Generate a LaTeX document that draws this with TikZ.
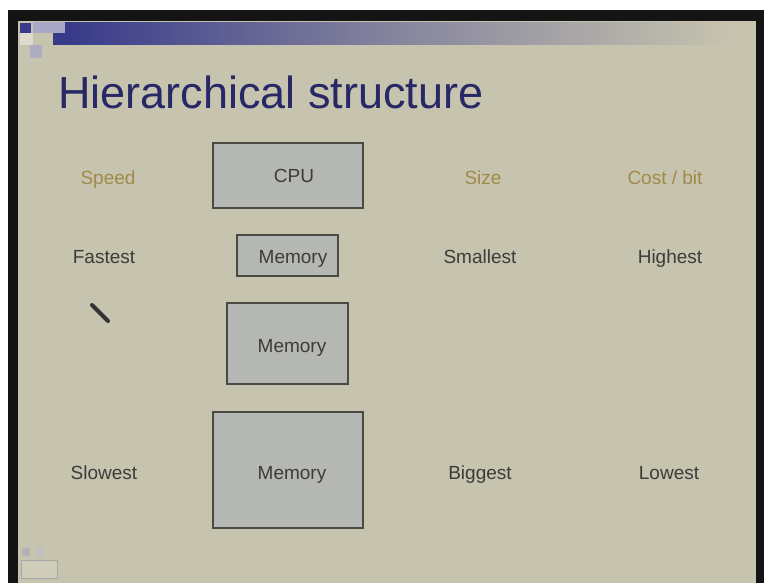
\documentclass[tikz,border=0pt]{standalone}
\usepackage{fontspec}
\setmainfont{Liberation Sans}
\definecolor{slidebg}{HTML}{C6C3AE}
\definecolor{navy}{HTML}{282866}
\definecolor{barnavy}{HTML}{383A8A}
\definecolor{lavender}{HTML}{A9A8C6}
\definecolor{boxfill}{HTML}{B5B7B4}
\definecolor{boxline}{HTML}{4A4A45}
\definecolor{headgold}{HTML}{A08A48}
\definecolor{bodygray}{HTML}{3C3C3A}
\tikzset{
  memblock/.style={draw=boxline, line width=2pt, fill=boxfill, inner sep=0pt},
  boxtext/.style={anchor=base, text=bodygray, font=\fontsize{19}{22}\selectfont},
  headtext/.style={anchor=base, text=headgold, font=\fontsize{19}{22}\selectfont},
  rowtext/.style={anchor=base, text=bodygray, font=\fontsize{19}{22}\selectfont},
}
\begin{document}
\begin{tikzpicture}[x=1pt,y=-1pt]
\useasboundingbox (0,0) rectangle (764,583);
% frame around the slide
\fill[white] (0,0) rectangle (764,583);
\fill[black!92] (8,10) rectangle (764,583);
\fill[slidebg] (18,21) rectangle (756,583);
% title bar with its corner squares
\shade[left color=barnavy, right color=slidebg, middle color=barnavy!45!slidebg]
  (65,23) rectangle (730,45);
\fill[barnavy] (53,33) rectangle (65,45);
\fill[lavender] (33,22) rectangle (65,33);
\fill[barnavy] (20,23) rectangle (31,33);
\fill[slidebg!60!white] (20,33) rectangle (33,45);
\fill[lavender!85!slidebg] (30,45) rectangle (42,58);
% title
\node[anchor=base west, inner sep=0pt, text=navy, font=\fontsize{45}{50}\selectfont]
  (title) at (58,109) {Hierarchical structure};
% column heads
\node[headtext] (speed) at (108,185) {Speed};
\node[headtext] (size) at (483,185) {Size};
\node[headtext] (cost) at (665,185) {Cost / bit};
% hierarchy of blocks
\node[memblock, minimum width=150, minimum height=65] (cpu) at (288,175.5) {};
\node[boxtext] (cpulabel) at (294,183) {CPU};
\node[memblock, minimum width=101, minimum height=41] (mem1) at (287.5,255.5) {};
\node[boxtext] (mem1label) at (293,263) {Memory};
\node[memblock, minimum width=121, minimum height=81] (mem2) at (287.5,343.5) {};
\node[boxtext] (mem2label) at (292,352) {Memory};
\node[memblock, minimum width=150, minimum height=116] (mem3) at (288,470) {};
\node[boxtext] (mem3label) at (292,479) {Memory};
% row labels
\node[rowtext] (fastest) at (104,263) {Fastest};
\node[rowtext] (smallest) at (480,263) {Smallest};
\node[rowtext] (highest) at (670,263) {Highest};
\node[rowtext] (slowest) at (104,479) {Slowest};
\node[rowtext] (biggest) at (480,479) {Biggest};
\node[rowtext] (lowest) at (669,479) {Lowest};
% pen stroke
\draw[line width=4pt, line cap=round, black!80] (92,305) -- (108,321);
% small icon in the lower corner
\draw[gray!70, fill=slidebg!85!white, line width=1pt] (21,560) rectangle (57,578);
\fill[gray!60] (22,548) rectangle (30,556);
\fill[gray!50] (36,547) rectangle (44,556);
\end{tikzpicture}
\end{document}
